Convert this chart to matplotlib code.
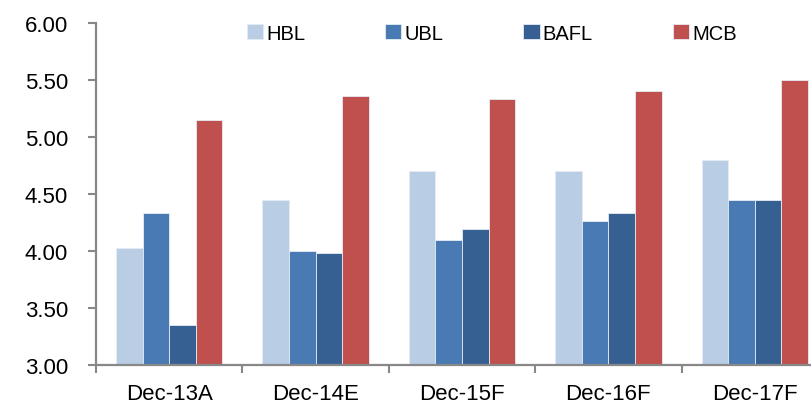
import numpy as np
import matplotlib.pyplot as plt
from matplotlib import font_manager
from matplotlib.ticker import FixedLocator

periods = ['Dec-13A', 'Dec-14E', 'Dec-15F', 'Dec-16F', 'Dec-17F']
banks = ['HBL', 'UBL', 'BAFL', 'MCB']
hbl = [4.03, 4.45, 4.70, 4.70, 4.80]
ubl = [4.33, 4.00, 4.10, 4.26, 4.45]
bafl = [3.35, 3.98, 4.19, 4.33, 4.45]
mcb = [5.15, 5.36, 5.33, 5.40, 5.50]
colors = ['#B9CDE5', '#4A7AB4', '#366092', '#C0504D']

names = {f.name for f in font_manager.fontManager.ttflist}
fam = [n for n in ['Liberation Sans Narrow', 'Arial Narrow', 'Liberation Sans'] if n in names][:1]
plt.rcParams['font.family'] = fam + ['DejaVu Sans']

fig = plt.figure(figsize=(8.12, 4.10), dpi=100)
ax = fig.add_axes([96 / 812, 44 / 410, 732 / 812, 342 / 410])

x = np.arange(len(periods))
w = 0.182
for i, (name, vals) in enumerate(zip(banks, [hbl, ubl, bafl, mcb])):
    ax.bar(x + (i - 1.5) * w, np.array(vals) - 3.0, width=w, bottom=3.0,
           color=colors[i], edgecolor='#E6ECF4', linewidth=0.6, label=name)

ax.set_xlim(-0.5, len(periods) - 0.5)
ax.set_ylim(3.0, 6.0)
yt = np.arange(3.0, 6.01, 0.5)
ax.set_yticks(yt)
ax.set_yticklabels([f'{v:.2f}' for v in yt])
ax.set_xticks(x)
ax.set_xticklabels(periods)
ax.xaxis.set_minor_locator(FixedLocator(np.arange(-0.5, len(periods), 1.0)))
ax.tick_params(axis='x', which='major', length=0, pad=13, labelsize=16)
ax.tick_params(axis='x', which='minor', length=6, width=1.5, color='#888888', direction='out')
ax.tick_params(axis='y', length=6, width=1.5, color='#888888', direction='out', pad=14, labelsize=16)

for s in ['top', 'right']:
    ax.spines[s].set_visible(False)
for s in ['left', 'bottom']:
    ax.spines[s].set_color('#888888')
    ax.spines[s].set_linewidth(1.6)

fig.legend(loc='center left', bbox_to_anchor=(247 / 812, 1 - 34 / 410), ncol=4,
           frameon=False, fontsize=14.5, handlelength=0.8, handleheight=0.8,
           handletextpad=0.15, columnspacing=3.98, borderpad=0, borderaxespad=0)

fig.savefig('out.png', dpi=100)
